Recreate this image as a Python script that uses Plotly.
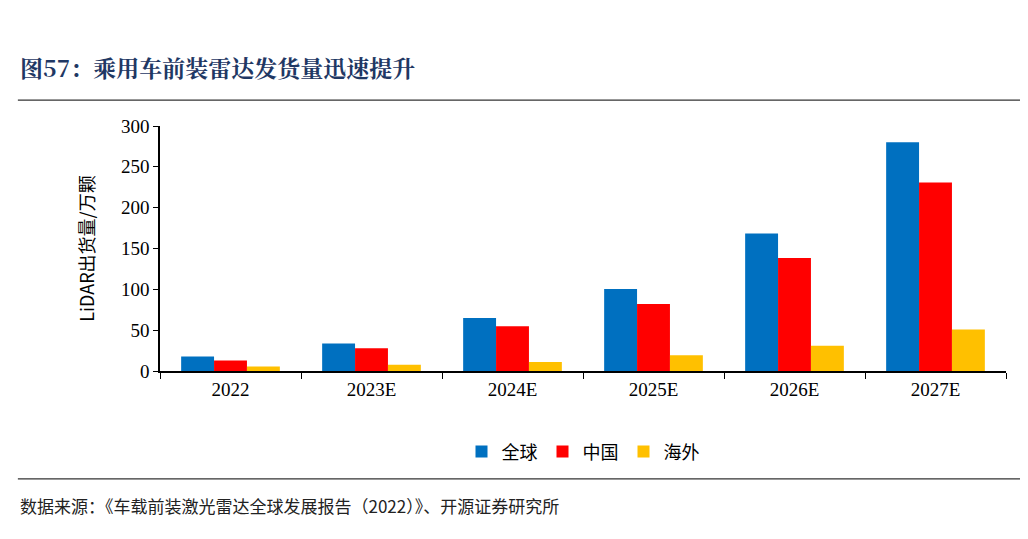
import plotly.graph_objects as go

years = ["2022", "2023E", "2024E", "2025E", "2026E", "2027E"]
global_vals = [17.7, 33.8, 65, 100.5, 168.5, 280]
china_vals = [12.8, 28, 54.8, 82, 138.4, 230.7]
overseas_vals = [5.4, 7.8, 11, 19.4, 31, 50.7]

fig = go.Figure()
for name, vals, color in [("全球", global_vals, "#0070C0"),
                          ("中国", china_vals, "#FF0000"),
                          ("海外", overseas_vals, "#FFC000")]:
    fig.add_trace(go.Bar(x=years, y=vals, name=name, marker_color=color, marker_line_width=0))

fig.update_layout(
    width=1028, height=539, plot_bgcolor="white", paper_bgcolor="white",
    margin=dict(l=152, r=30, t=118, b=176),
    barmode="group", bargap=0.3, bargroupgap=0,
    font=dict(family="Liberation Serif, Noto Sans CJK SC", size=19, color="black"),
    legend=dict(orientation="h", x=0.5, xanchor="center", y=-0.33, yanchor="middle",
                font=dict(family="Noto Sans CJK SC", size=18)),
    showlegend=True,
)
fig.update_xaxes(showline=True, linecolor="black", linewidth=1.5, ticks="outside",
                 tickson="boundaries", ticklen=6, tickcolor="black")
fig.update_yaxes(range=[0, 300], dtick=50, showgrid=False, showline=True, linecolor="black",
                 linewidth=1.5, ticks="outside", ticklen=5, tickcolor="black",
                 title=dict(text="LiDAR出货量/万颗", font=dict(family="Noto Sans CJK SC", size=18),
                            standoff=22))

fig.add_annotation(text="<b>图57：乘用车前装雷达发货量迅速提升</b>", xref="paper", yref="paper",
                   x=-0.168, y=1.0, yshift=40, xanchor="left", yanchor="bottom", showarrow=False,
                   font=dict(family="Noto Serif CJK SC, Noto Sans CJK SC", size=23, color="#1F3864"))
fig.add_shape(type="line", xref="paper", yref="paper", x0=-0.168, x1=1.03, y0=1.106, y1=1.106,
              line=dict(color="#333", width=1.2))
fig.add_shape(type="line", xref="paper", yref="paper", x0=-0.168, x1=1.03, y0=-0.44, y1=-0.44,
              line=dict(color="#333", width=1.2))
fig.add_annotation(text="数据来源：《车载前装激光雷达全球发展报告（2022）》、开源证券研究所",
                   xref="paper", yref="paper", x=-0.168, y=-0.44, yshift=-12, xanchor="left",
                   yanchor="top", showarrow=False,
                   font=dict(family="Noto Sans CJK SC", size=17, color="#222"))

fig.write_html("out.html")
